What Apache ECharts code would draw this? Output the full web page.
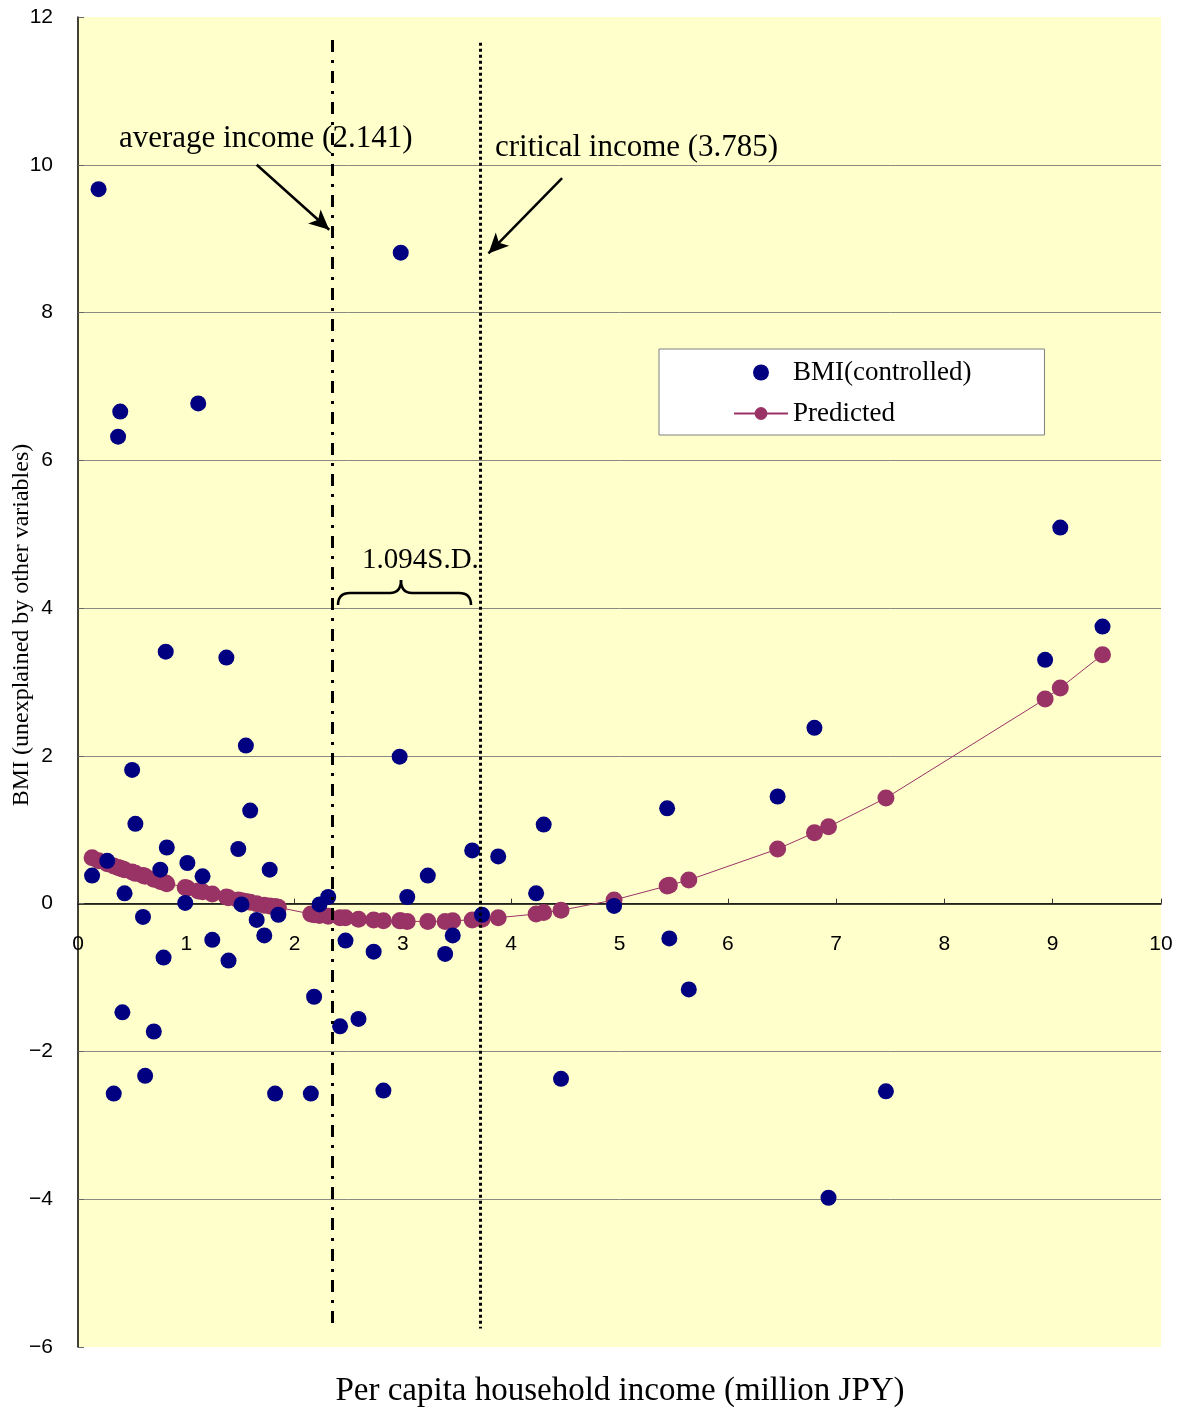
<!DOCTYPE html>
<html>
<head>
<meta charset="utf-8">
<script src="https://cdn.jsdelivr.net/npm/echarts@6/dist/echarts.min.js"></script>
<style>
html,body{margin:0;padding:0;background:#fff;}
#chart{width:1185px;height:1411px;}
</style>
</head>
<body>
<div id="chart"></div>
<script>
// income (million JPY) for each observation
var incomeX = [0.13,0.19,0.27,0.33,0.37,0.39,0.41,0.43,0.50,0.53,0.60,0.62,0.70,0.76,0.79,0.81,0.82,0.99,1.01,1.11,1.15,1.24,1.37,1.39,1.48,1.51,1.55,1.59,1.65,1.72,1.77,1.82,1.85,2.15,2.18,2.23,2.31,2.42,2.47,2.59,2.73,2.82,2.97,2.98,3.04,3.23,3.39,3.46,3.64,3.73,3.88,4.23,4.30,4.46,4.95,5.44,5.46,5.64,6.46,6.80,6.93,7.46,8.93,9.07,9.46];
// BMI (controlled)
var bmiY = [0.38,9.67,0.58,-2.57,6.32,6.66,-1.47,0.14,1.81,1.08,-0.18,-2.33,-1.73,0.46,-0.73,3.41,0.76,0.01,0.55,6.77,0.37,-0.49,3.33,-0.77,0.74,-0.01,2.14,1.26,-0.22,-0.43,0.46,-2.57,-0.15,-2.57,-1.26,-0.01,0.09,-1.66,-0.50,-1.56,-0.65,-2.53,1.99,8.81,0.09,0.38,-0.68,-0.43,0.72,-0.15,0.64,0.14,1.07,-2.37,-0.03,1.29,-0.47,-1.16,1.45,2.38,-3.98,-2.54,3.30,5.09,3.75];
// Predicted
var predY = [0.62,0.58,0.54,0.51,0.49,0.48,0.47,0.46,0.43,0.41,0.38,0.37,0.33,0.30,0.29,0.28,0.27,0.22,0.21,0.17,0.16,0.13,0.09,0.08,0.05,0.04,0.03,0.02,0.00,-0.02,-0.03,-0.04,-0.05,-0.14,-0.15,-0.16,-0.17,-0.19,-0.19,-0.21,-0.22,-0.23,-0.23,-0.23,-0.24,-0.24,-0.24,-0.23,-0.22,-0.21,-0.19,-0.14,-0.12,-0.09,0.05,0.24,0.25,0.32,0.74,0.96,1.04,1.43,2.77,2.92,3.37];

var seriesNames = ['BMI(controlled)', 'Predicted'];
var xTicks = {min: 0, max: 10, step: 1};
var yTicks = {min: -6, max: 12, step: 2};
// reference lines (as drawn) and their vertical extents
var avgLineX = 2.345, avgLineY = [11.69, -5.71];
var critLineX = 3.712, critLineY = [11.65, -5.75];
// annotation arrows [from, to]
var avgArrow = [[1.65, 10.0], [2.32, 9.12]];
var critArrow = [[4.47, 9.82], [3.79, 8.80]];
var annoTexts = ['average income (2.141)', 'critical income (3.785)', '1.094S.D.'];
var xName = 'Per capita household income (million JPY)';
var yName = 'BMI (unexplained by other variables)';

var bmiData = incomeX.map(function (x, i) { return [x, bmiY[i]]; });
var predData = incomeX.map(function (x, i) { return [x, predY[i]]; });

var chart = echarts.init(document.getElementById('chart'), null, {renderer: 'canvas'});
var serif = '"Liberation Serif", "Times New Roman", serif';
var sans = '"Liberation Sans", Arial, sans-serif';

// grid geometry
var gridTop = 17, gridBottom = 64, chartH = 1411;
var plotH = chartH - gridTop - gridBottom;
// offset that places the x axis (with its labels) on y = 0
var zeroOffset = -plotH * (0 - yTicks.min) / (yTicks.max - yTicks.min);

var option = {
  animation: false,
  backgroundColor: '#ffffff',
  grid: {
    left: 78, right: 24, top: gridTop, bottom: gridBottom,
    show: true, backgroundColor: '#FFFFCC', borderWidth: 0
  },
  legend: {
    data: seriesNames,
    orient: 'vertical',
    left: 659, top: 349,
    itemWidth: 54, itemHeight: 16, itemGap: 14,
    backgroundColor: '#ffffff',
    borderColor: '#808080', borderWidth: 1, borderRadius: 0,
    padding: [10, 73, 8, 74],
    textStyle: {fontFamily: serif, fontSize: 27, color: '#000'}
  },
  xAxis: {
    type: 'value',
    position: 'bottom',
    offset: zeroOffset,
    min: xTicks.min, max: xTicks.max, interval: xTicks.step,
    axisLine: {show: true, onZero: false, lineStyle: {color: '#000', width: 1.5}},
    axisTick: {show: true, inside: true, length: 5, lineStyle: {color: '#333'}},
    axisLabel: {margin: 30, fontFamily: sans, fontSize: 21, color: '#000'},
    splitLine: {show: false}
  },
  yAxis: {
    type: 'value',
    min: yTicks.min, max: yTicks.max, interval: yTicks.step,
    axisLine: {show: true, onZero: false, lineStyle: {color: '#000', width: 1.5}},
    axisTick: {show: true, inside: true, length: 6, lineStyle: {color: '#666'}},
    axisLabel: {
      margin: 25, fontFamily: sans, fontSize: 21, color: '#000',
      formatter: function (v) { return String(v).replace('-', '\u2212'); }
    },
    splitLine: {show: true, showMinLine: false, showMaxLine: false, lineStyle: {color: '#8a8a80', width: 1}}
  },
  series: [
    {
      name: seriesNames[1],
      type: 'line',
      data: predData,
      z: 2,
      symbol: 'circle', symbolSize: 17,
      itemStyle: {color: '#993366', opacity: 1},
      lineStyle: {color: '#993366', width: 1},
      markLine: {
        silent: true,
        animation: false,
        label: {show: false},
        data: [
          [
            {coord: [avgLineX, avgLineY[0]], symbol: 'none', lineStyle: {color: '#000', width: 3, type: [12, 8, 3, 8]}},
            {coord: [avgLineX, avgLineY[1]], symbol: 'none'}
          ],
          [
            {coord: [critLineX, critLineY[0]], symbol: 'none', lineStyle: {color: '#000', width: 3, type: [3, 3]}},
            {coord: [critLineX, critLineY[1]], symbol: 'none'}
          ],
          [
            {coord: avgArrow[0], symbol: 'none', lineStyle: {color: '#000', width: 2.5, type: 'solid'}},
            {coord: avgArrow[1], symbol: 'arrow', symbolSize: [14, 20]}
          ],
          [
            {coord: critArrow[0], symbol: 'none', lineStyle: {color: '#000', width: 2.5, type: 'solid'}},
            {coord: critArrow[1], symbol: 'arrow', symbolSize: [14, 20]}
          ]
        ]
      }
    },
    {
      name: seriesNames[0],
      type: 'scatter',
      data: bmiData,
      z: 3,
      symbol: 'circle', symbolSize: 16,
      itemStyle: {color: '#000080', opacity: 1}
    }
  ],
  graphic: [
    {type: 'text', x: 119, y: 139, z: 10, style: {text: annoTexts[0], font: '31px ' + serif, fill: '#000', align: 'left', verticalAlign: 'middle'}},
    {type: 'text', x: 495, y: 148, z: 10, style: {text: annoTexts[1], font: '31px ' + serif, fill: '#000', align: 'left', verticalAlign: 'middle'}},
    {type: 'text', x: 362, y: 560, z: 10, style: {text: annoTexts[2], font: '29px ' + serif, fill: '#000', align: 'left', verticalAlign: 'middle'}},
    {type: 'bezierCurve', z: 10, shape: {x1: 338, y1: 605, x2: 350, y2: 593, cpx1: 338, cpy1: 593}, style: {stroke: '#000', lineWidth: 2.5, fill: null}},
    {type: 'line', z: 10, shape: {x1: 350, y1: 593, x2: 390, y2: 593}, style: {stroke: '#000', lineWidth: 2.5}},
    {type: 'bezierCurve', z: 10, shape: {x1: 390, y1: 593, x2: 401, y2: 580, cpx1: 401, cpy1: 593}, style: {stroke: '#000', lineWidth: 2.5, fill: null}},
    {type: 'bezierCurve', z: 10, shape: {x1: 401, y1: 580, x2: 412, y2: 593, cpx1: 401, cpy1: 593}, style: {stroke: '#000', lineWidth: 2.5, fill: null}},
    {type: 'line', z: 10, shape: {x1: 412, y1: 593, x2: 459, y2: 593}, style: {stroke: '#000', lineWidth: 2.5}},
    {type: 'bezierCurve', z: 10, shape: {x1: 459, y1: 593, x2: 471, y2: 605, cpx1: 471, cpy1: 593}, style: {stroke: '#000', lineWidth: 2.5, fill: null}},
    {type: 'text', x: 620, y: 1391, z: 10, style: {text: xName, font: '33px ' + serif, fill: '#000', align: 'center', verticalAlign: 'middle'}},
    {type: 'text', x: 22, y: 625, rotation: Math.PI / 2, z: 10, style: {text: yName, font: '24px ' + serif, fill: '#000', align: 'center', verticalAlign: 'middle'}}
  ]
};
chart.setOption(option);
</script>
</body>
</html>
